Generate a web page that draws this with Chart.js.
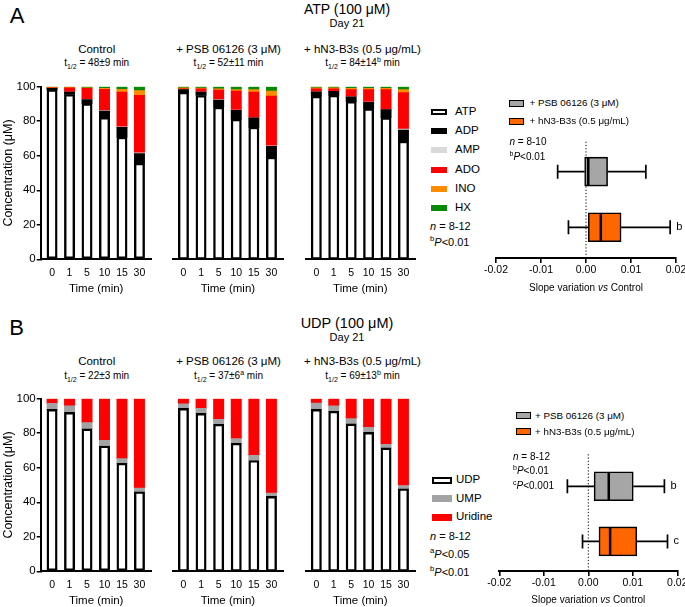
<!DOCTYPE html>
<html>
<head>
<meta charset="utf-8">
<title>ATP / UDP hydrolysis, Day 21</title>
<script src="https://cdn.jsdelivr.net/npm/chart.js"></script>
<style>
  body { margin: 0; background: #fff; overflow: hidden; font-family: "Liberation Sans", Arial, sans-serif; color: #000; }
  #fig { position: relative; width: 685px; height: 607px; overflow: hidden; }
  .box { position: absolute; }
  .t { position: absolute; white-space: nowrap; line-height: 1; }
  .c { transform: translate(-50%, -50%); }
  .l { transform: translateY(-50%); }
  sub, sup { font-size: 70%; line-height: 0; }
  .sw { position: absolute; box-sizing: border-box; }
</style>
</head>
<body>
<div id="fig"></div>
<script>
// time points (min)
const times = ['0', '1', '5', '10', '15', '30'];

// Panel A: ATP (100 uM) and metabolites, uM
const atpNames = ['ATP', 'ADP', 'AMP', 'ADO', 'INO', 'HX'];
const atpColors = ['#ffffff', '#000000', '#d9d9d9', '#ff0000', '#ff8c00', '#078a07'];

const aCtrlATP = [98.3, 95.5, 90.1, 82.2, 70.8, 55.7];
const aCtrlADP = [0.7, 1.4, 2.4, 3.7, 5.6, 5.5];
const aCtrlAMP = [0, 0, 0.2, 0.2, 0.3, 0.5];
const aCtrlADO = [0.4, 2.4, 6.3, 12.4, 20.2, 33.3];
const aCtrlINO = [0.2, 0.3, 0.3, 0.5, 1.6, 2.7];
const aCtrlHX  = [0.4, 0.4, 0.7, 1.0, 1.5, 2.3];

const aPsbATP = [96.8, 94.9, 88.2, 81.2, 76.6, 59.2];
const aPsbADP = [1.5, 2.0, 4.1, 5.1, 5.4, 6.2];
const aPsbAMP = [0, 0, 0.2, 0.2, 0, 0.4];
const aPsbADO = [0.5, 1.9, 5.5, 11.0, 14.9, 28.7];
const aPsbINO = [0.5, 0.4, 0.8, 0.8, 1.4, 3.0];
const aPsbHX  = [0.7, 0.8, 1.2, 1.7, 1.7, 2.5];

const aHnATP = [94.5, 95.1, 91.5, 87.2, 82.0, 68.5];
const aHnADP = [2.6, 2.2, 2.7, 3.7, 4.7, 6.3];
const aHnAMP = [0, 0, 0, 0.2, 0, 0.6];
const aHnADO = [1.7, 1.5, 4.1, 7.2, 11.6, 21.2];
const aHnINO = [0.5, 0.5, 0.7, 0.7, 0.7, 1.7];
const aHnHX  = [0.7, 0.7, 1.0, 1.0, 1.0, 1.7];

// Panel B: UDP (100 uM) and metabolites, uM
const udpNames = ['UDP', 'UMP', 'Uridine'];
const udpColors = ['#ffffff', '#a3a3a6', '#ff0000'];

const bCtrlUDP = [93.8, 92.1, 82.5, 72.6, 62.6, 46.1];
const bCtrlUMP = [3.5, 3.7, 3.6, 3.3, 2.7, 2.1];
const bCtrlURI = [2.7, 4.2, 13.9, 24.1, 34.7, 51.8];

const bPsbUDP = [94.4, 91.5, 85.2, 74.2, 64.2, 43.4];
const bPsbUMP = [2.7, 2.9, 2.9, 2.7, 3.0, 1.9];
const bPsbURI = [2.9, 5.6, 11.9, 23.1, 32.8, 54.7];

const bHnUDP = [93.8, 92.7, 85.4, 80.5, 71.5, 47.8];
const bHnUMP = [3.7, 3.1, 3.1, 2.9, 2.1, 1.9];
const bHnURI = [2.5, 4.2, 11.5, 16.6, 26.4, 50.3];

// slope variation vs control (box plots)
const boxGroups = ['+ PSB 06126 (3 μM)', '+ hN3-B3s (0.5 μg/mL)'];
const boxFills = ['#a6a6a6', '#ff6600'];
const boxTicks = [-0.02, -0.01, 0, 0.01, 0.02];

const aBoxMin = [-0.0063, -0.0039];
const aBoxQ1  = [-0.0003, 0.0005];
const aBoxMed = [0.0005, 0.0033];
const aBoxQ3  = [0.0048, 0.0078];
const aBoxMax = [0.0133, 0.0187];
const aBoxSig = ['', 'b'];

const bBoxMin = [-0.0047, -0.0013];
const bBoxQ1  = [0.0013, 0.0024];
const bBoxMed = [0.0046, 0.0049];
const bBoxQ3  = [0.0101, 0.0109];
const bBoxMax = [0.0171, 0.0178];
const bBoxSig = ['b', 'c'];

const FONT = '"Liberation Sans", Arial, sans-serif';
Chart.defaults.font.family = FONT;
Chart.defaults.color = '#000';
Chart.defaults.animation = false;
Chart.defaults.plugins.legend.display = false;
Chart.defaults.plugins.tooltip.enabled = false;

const fig = document.getElementById('fig');

function txt(html, x, y, size, align) {
  const d = document.createElement('div');
  d.className = 't ' + (align === 'left' ? 'l' : 'c');
  d.style.left = x + 'px';
  d.style.top = y + 'px';
  d.style.fontSize = size + 'px';
  d.innerHTML = html;
  fig.appendChild(d);
}

function swatch(x, y, w, h, fill, border) {
  const d = document.createElement('div');
  d.className = 'sw';
  d.style.cssText = `left:${x}px;top:${y - h / 2}px;width:${w}px;height:${h}px;background:${fill};border:${border}px solid #000`;
  fig.appendChild(d);
}

function place(left, top, width, height) {
  const d = document.createElement('div');
  d.className = 'box';
  d.style.cssText = `left:${left}px;top:${top}px;width:${width}px;height:${height}px`;
  const c = document.createElement('canvas');
  c.width = width; c.height = height;
  c.style.width = width + 'px'; c.style.height = height + 'px';
  d.appendChild(c);
  fig.appendChild(d);
  return c;
}

// stacked bars for one condition
function stackChart(left, top, width, names, colors, series, showY) {
  const cv = place(left, top, width, 224);
  return new Chart(cv, {
    type: 'bar',
    data: {
      datasets: series.map((vals, k) => ({
        label: names[k],
        data: vals.map((v, i) => ({ x: i, y: v })),
        backgroundColor: colors[k],
        borderColor: '#000',
        borderWidth: k === 0 ? 2.4 : 0,
        borderSkipped: false,
        barThickness: 10.3
      }))
    },
    options: {
      responsive: false,
      layout: { padding: { top: 10.7, left: 0, right: 0, bottom: 0 } },
      scales: {
        x: {
          type: 'linear', stacked: true, min: -0.65, max: 5.7, offset: false,
          afterFit: s => { s.height = 40.7; },
          afterBuildTicks: s => { s.ticks = times.map((t, i) => ({ value: i })); },
          ticks: { callback: (v, i) => times[i], font: { size: 10.5 }, padding: 7.7, autoSkip: false, maxRotation: 0 },
          grid: { display: true, drawOnChartArea: false, drawTicks: false, color: '#000' },
          border: { color: '#000', width: 2 },
          title: { display: true, text: 'Time (min)', font: { size: 11.5 }, padding: { top: 0, bottom: 4.6 } }
        },
        y: {
          display: showY, stacked: true, min: 0, max: 100,
          afterFit: s => { s.width = showY ? 40.7 : 0; },
          ticks: { stepSize: 20, font: { size: 11.5 }, padding: 1 },
          grid: { drawOnChartArea: false, tickLength: 4, color: '#000', lineWidth: 1.5 },
          border: { color: '#000', width: 2 },
          title: { display: true, text: 'Concentration (μM)', font: { size: 12.5 }, padding: { top: 1, bottom: 0 } }
        }
      }
    }
  });
}

// whiskers, caps, zero line and significance letters
function whiskers(mins, q1s, q3s, maxs, sigs) {
  return {
    id: 'whiskers',
    beforeDatasetsDraw(chart) {
      const { ctx, chartArea, scales: { x, y } } = chart;
      ctx.save();
      ctx.strokeStyle = '#000';
      ctx.lineWidth = 1;
      ctx.setLineDash([1.2, 2]);
      const x0 = x.getPixelForValue(0);
      ctx.beginPath();
      ctx.moveTo(x0, chartArea.top);
      ctx.lineTo(x0, chartArea.bottom);
      ctx.stroke();
      ctx.setLineDash([]);
      ctx.lineWidth = 1.7;
      mins.forEach((mn, i) => {
        const yc = y.getPixelForValue(i);
        const a = x.getPixelForValue(mn), b = x.getPixelForValue(q1s[i]);
        const c = x.getPixelForValue(q3s[i]), d = x.getPixelForValue(maxs[i]);
        ctx.beginPath();
        ctx.moveTo(a, yc); ctx.lineTo(b, yc);
        ctx.moveTo(c, yc); ctx.lineTo(d, yc);
        ctx.moveTo(a, yc - 7); ctx.lineTo(a, yc + 7);
        ctx.moveTo(d, yc - 7); ctx.lineTo(d, yc + 7);
        ctx.stroke();
        if (sigs[i]) {
          ctx.fillStyle = '#000';
          ctx.font = '11px ' + FONT;
          ctx.textBaseline = 'middle';
          ctx.fillText(sigs[i], d + 6, yc);
        }
      });
      ctx.restore();
    }
  };
}

function boxChart(top, height, pad, rowMin, rowMax, mins, q1s, meds, q3s, maxs, sigs) {
  const cv = place(466, top, 240, height);
  const half = (lo, hi) => ({
    data: lo.map((v, i) => ({ y: i, x: [v, hi[i]] })),
    backgroundColor: boxFills,
    borderColor: '#000',
    borderWidth: 1.6,
    borderSkipped: false,
    barThickness: 29,
    grouped: false
  });
  return new Chart(cv, {
    type: 'bar',
    data: { datasets: [half(q1s, meds), half(meds, q3s)] },
    options: {
      responsive: false,
      indexAxis: 'y',
      layout: { padding: pad },
      scales: {
        x: {
          type: 'linear', min: -0.02, max: 0.02,
          afterFit: s => { s.height = 30; },
          afterBuildTicks: s => { s.ticks = boxTicks.map(v => ({ value: v })); },
          ticks: { callback: v => v.toFixed(2), font: { size: 10.5 }, padding: 0.5, autoSkip: false, maxRotation: 0 },
          grid: { drawOnChartArea: false, tickLength: 5, color: '#000', lineWidth: 1.6 },
          border: { color: '#000', width: 2 }
        },
        y: { type: 'linear', display: false, reverse: true, min: rowMin, max: rowMax, offset: false }
      }
    },
    plugins: [whiskers(mins, q1s, q3s, maxs, sigs)]
  });
}

// ---------- Panel A ----------
txt('A', 17, 15.5, 22);
txt('ATP (100 μM)', 347, 9, 14);
txt('Day 21', 347, 23, 11);

txt('Control', 96.7, 50, 11.5);
txt('t<sub>1/2</sub> = 48±9 min', 96.7, 63, 10);
txt('+ PSB 06126 (3 μM)', 228.5, 50, 11.5);
txt('t<sub>1/2</sub> = 52±11 min', 228.5, 63, 10);
txt('+ hN3-B3s (0.5 μg/mL)', 362.5, 50, 11.5);
txt('t<sub>1/2</sub> = 84±14<sup>b</sup> min', 362.5, 63, 10);

stackChart(0, 76, 153, atpNames, atpColors, [aCtrlATP, aCtrlADP, aCtrlAMP, aCtrlADO, aCtrlINO, aCtrlHX], true);
stackChart(172, 76, 113, atpNames, atpColors, [aPsbATP, aPsbADP, aPsbAMP, aPsbADO, aPsbINO, aPsbHX], false);
stackChart(305, 76, 112, atpNames, atpColors, [aHnATP, aHnADP, aHnAMP, aHnADO, aHnINO, aHnHX], false);

atpNames.forEach((n, k) => {
  const y = 111.7 + k * 19.3;
  swatch(431, y, 16, 6, atpColors[k], k === 0 ? 2 : 0);
  txt(n, 455, y, 11.5, 'left');
});
txt('<i>n</i> = 8-12', 430, 225.7, 11, 'left');
txt('<sup>b</sup><i>P</i>&lt;0.01', 430, 242.3, 11, 'left');

boxChart(120, 168, { top: 21.7, left: 30, right: 30, bottom: 0 }, -0.538, 1.552,
  aBoxMin, aBoxQ1, aBoxMed, aBoxQ3, aBoxMax, aBoxSig);
boxGroups.forEach((g, k) => {
  const y = 103.3 + k * 17.7;
  swatch(509, y, 15, 7, boxFills[k], 1.5);
  txt(g, 529.5, y, 9.8, 'left');
});
txt('<i>n</i> = 8-10', 509.5, 142, 10, 'left');
txt('<sup>b</sup><i>P</i>&lt;0.01', 509.5, 157, 10, 'left');
txt('Slope variation <i>vs</i> Control', 586, 287.7, 10);

// ---------- Panel B ----------
txt('B', 16.5, 328, 22);
txt('UDP (100 μM)', 347, 323, 14.5);
txt('Day 21', 347, 337, 11);

txt('Control', 96.7, 361.5, 11.5);
txt('t<sub>1/2</sub> = 22±3 min', 96.7, 376, 10);
txt('+ PSB 06126 (3 μM)', 228.5, 361.5, 11.5);
txt('t<sub>1/2</sub> = 37±6<sup>a</sup> min', 228.5, 376, 10);
txt('+ hN3-B3s (0.5 μg/mL)', 362.5, 361.5, 11.5);
txt('t<sub>1/2</sub> = 69±13<sup>b</sup> min', 362.5, 376, 10);

stackChart(0, 388, 153, udpNames, udpColors, [bCtrlUDP, bCtrlUMP, bCtrlURI], true);
stackChart(172, 388, 113, udpNames, udpColors, [bPsbUDP, bPsbUMP, bPsbURI], false);
stackChart(305, 388, 112, udpNames, udpColors, [bHnUDP, bHnUMP, bHnURI], false);

udpNames.forEach((n, k) => {
  const y = 480 + k * 18.7;
  swatch(431.7, y, 20, 7, udpColors[k], k === 0 ? 2 : 0);
  txt(n, 456, y, 11.5, 'left');
});
txt('<i>n</i> = 8-12', 430, 536, 11, 'left');
txt('<sup>a</sup><i>P</i>&lt;0.05', 430, 554, 11, 'left');
txt('<sup>b</sup><i>P</i>&lt;0.01', 430, 571.7, 11, 'left');

boxChart(434, 167, { top: 20.3, left: 33.3, right: 28.7, bottom: 0 }, -0.58, 1.536,
  bBoxMin, bBoxQ1, bBoxMed, bBoxQ3, bBoxMax, bBoxSig);
boxGroups.forEach((g, k) => {
  const y = 415.5 + k * 16.3;
  swatch(516, y, 15, 7, boxFills[k], 1.5);
  txt(g, 535, y, 9.8, 'left');
});
txt('<i>n</i> = 8-12', 513, 456.7, 10, 'left');
txt('<sup>b</sup><i>P</i>&lt;0.01', 513, 471.2, 10, 'left');
txt('<sup>c</sup><i>P</i>&lt;0.001', 513, 485.5, 10, 'left');
txt('Slope variation <i>vs</i> Control', 588.3, 599.5, 10);
</script>
</body>
</html>
